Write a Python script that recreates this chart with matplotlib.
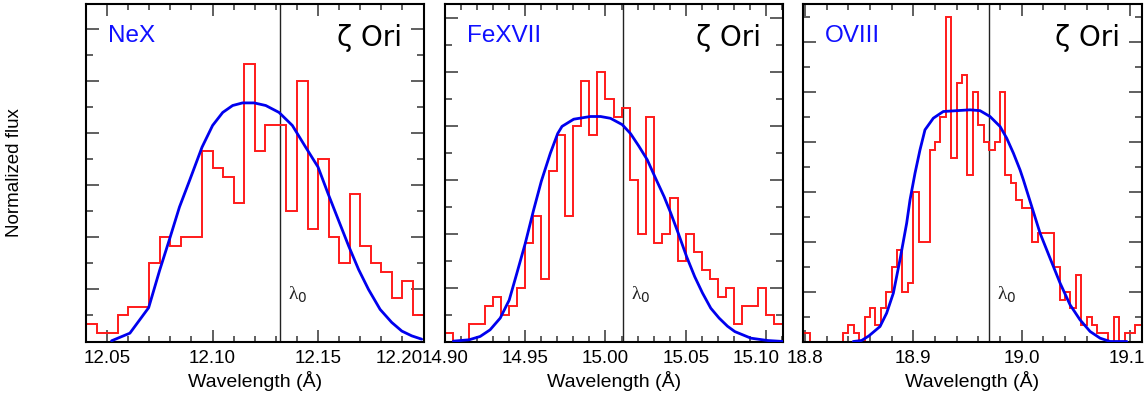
import numpy as np
import matplotlib
matplotlib.use("Agg")
import matplotlib.pyplot as plt
from matplotlib.ticker import FixedLocator, MultipleLocator, FuncFormatter

# ---------------- data ----------------
# Ne X panel
nex_bin_start = 12.040
nex_bin_width = 0.005
nex_counts = [2, 1, 1, 3, 4, 4, 9, 12, 11, 12, 12, 22, 20, 19, 16, 32,
              22, 25, 25, 15, 30, 13, 21, 12, 9, 17, 11, 9, 8, 5, 7, 3]
nex_model_wave = [12.0521, 12.0608, 12.0697, 12.0749, 12.0796, 12.0843, 12.0890,
                  12.0950, 12.1000, 12.1048, 12.1095, 12.1142, 12.1197, 12.1252,
                  12.1315, 12.1378, 12.1441, 12.1500, 12.1548, 12.1598, 12.1645,
                  12.1692, 12.1739, 12.1794, 12.1849, 12.1897, 12.1944, 12.1991]
nex_model_flux = [0.08, 0.96, 3.9, 8.2, 11.8, 15.5, 18.5, 22.4, 24.9, 26.4, 27.2,
                  27.5, 27.5, 27.2, 26.4, 24.9, 22.4, 20.1, 17.0, 13.9, 11.0, 8.3,
                  6.0, 3.7, 2.2, 1.2, 0.65, 0.27]
nex_lambda0 = 12.132

# Fe XVII panel
fe_bin_start = 14.900
fe_bin_width = 0.005
fe_counts = [1, 0, 0, 2, 2, 4, 5, 3, 4, 6, 11, 14, 7, 19, 23, 14, 24, 29, 23, 30,
             27, 25, 26, 18, 12, 25, 11, 12, 16, 9, 12, 10, 8, 7, 5, 6, 2, 4, 4, 6,
             3, 2]
fe_model_wave = [14.9052, 14.9150, 14.9219, 14.9281, 14.9344, 14.9400, 14.9448,
                 14.9500, 14.9552, 14.9600, 14.9656, 14.9702, 14.9729, 14.9802,
                 14.9906, 14.9969, 15.0031, 15.0104, 15.0156, 15.0208, 15.0260,
                 15.0313, 15.0365, 15.0406, 15.0454, 15.0506, 15.0556, 15.0604,
                 15.0656, 15.0708, 15.0760, 15.0806, 15.0906, 15.1010, 15.1110]
fe_model_flux = [0.04, 0.19, 0.56, 1.3, 2.6, 4.6, 7.6, 10.9, 14.6, 17.8, 20.9, 23.1,
                 23.9, 24.7, 25.0, 25.0, 24.8, 24.1, 23.1, 21.7, 20.2, 18.1, 16.1,
                 14.3, 12.0, 9.4, 7.2, 5.4, 3.7, 2.6, 1.7, 1.1, 0.37, 0.11, 0.0]
fe_lambda0 = 15.011

# O VIII panel
o_bin_start = 18.795
o_bin_width = 0.005
o_counts = [1, 1, 0, 0, 0, 0, 0, 0, 1, 2, 1, 0, 3, 4, 2, 4, 6, 9, 11, 6, 7,
            18, 12, 12, 23, 24, 27, 39, 22, 31, 32, 20, 30, 26, 24, 23, 24, 30,
            20, 19, 17, 16, 16, 12, 13, 13, 13, 9, 5, 6, 4, 8, 2, 3, 2, 1, 1, 0,
            3, 0, 1, 1, 2]
o_model_wave = [18.8446, 18.8523, 18.8591, 18.8693, 18.8754, 18.8816, 18.8877,
                18.8939, 18.8970, 18.9016, 18.9062, 18.9108, 18.9185, 18.9277,
                18.9400, 18.9524, 18.9616, 18.9708, 18.9801, 18.9862, 18.9924,
                18.9985, 19.0016, 19.0093, 19.0170, 19.0262, 19.0355, 19.0447,
                19.0539, 19.0632, 19.0724, 19.0816, 19.0970]
o_model_flux = [0.0, 0.12, 0.68, 1.8, 3.4, 5.8, 9.8, 14.2, 17.0, 20.2, 23.0, 25.4,
                26.8, 27.6, 27.7, 27.8, 27.7, 27.0, 25.8, 24.4, 22.6, 20.6, 19.4,
                16.2, 13.0, 10.0, 7.0, 4.4, 2.6, 1.2, 0.4, 0.0, 0.0]
o_lambda0 = 18.970

ion_labels = ["NeX", "FeXVII", "OVIII"]
star_label = "\u03b6 Ori"
x_major_ticks = [[12.05, 12.10, 12.15, 12.20],
                 [14.90, 14.95, 15.00, 15.05, 15.10],
                 [18.8, 18.9, 19.0, 19.1]]
x_tick_fmt = ["{:.2f}", "{:.2f}", "{:.1f}"]

# ---------------- layout ----------------
W, H = 1148, 400
fig = plt.figure(figsize=(W / 100, H / 100), dpi=100)
plt.rcParams['font.family'] = ['Liberation Sans', 'DejaVu Sans']

ax_px = [(86, 424), (445, 783), (803.3, 1141.7)]
top_px, bot_px = 4, 341.5
xlims = [(12.040, 12.2002), (14.900, 15.1106), (18.7985, 19.1108)]
ylims = [(0, 38.9), (0, 37.5), (0, 40.5)]
x_minor = [0.01, 0.01, 0.02]
last_label_shift_px = [-24, -10, -3]
tick_pad_pt = 6
tick_fs = 13.5

panels = [
    (nex_bin_start, nex_bin_width, nex_counts, nex_model_wave, nex_model_flux, nex_lambda0),
    (fe_bin_start, fe_bin_width, fe_counts, fe_model_wave, fe_model_flux, fe_lambda0),
    (o_bin_start, o_bin_width, o_counts, o_model_wave, o_model_flux, o_lambda0),
]

for i, (bstart, bw, counts, mw, mf, lam0) in enumerate(panels):
    l, r = ax_px[i]
    ax = fig.add_axes([l / W, (H - bot_px) / H, (r - l) / W, (bot_px - top_px) / H])
    edges = bstart + bw * np.arange(len(counts) + 1)
    ax.stairs(counts, edges, color='#ff1a1a', lw=1.4, baseline=None, zorder=2)
    ax.plot(mw, mf, color='#0000ee', lw=2.0, zorder=3, solid_capstyle='round')
    ax.axvline(lam0, color='#222222', lw=1.0, zorder=1)
    ax.set_xlim(*xlims[i])
    ax.set_ylim(*ylims[i])

    ticks = x_major_ticks[i]
    fmt = x_tick_fmt[i]
    last = ticks[-1]
    ax.xaxis.set_major_locator(FixedLocator(ticks))
    ax.xaxis.set_major_formatter(
        FuncFormatter(lambda v, p, fmt=fmt, last=last:
                      '' if abs(v - last) < 1e-9 else fmt.format(v)))
    ax.xaxis.set_minor_locator(MultipleLocator(x_minor[i]))
    ax.yaxis.set_major_locator(MultipleLocator(6))
    ax.yaxis.set_minor_locator(MultipleLocator(3))
    ax.set_yticklabels([])
    ax.tick_params(which='both', direction='in', top=True, right=True,
                   color='#444444', width=1.2)
    ax.tick_params(axis='x', which='major', length=8.6, pad=tick_pad_pt,
                   labelsize=tick_fs)
    ax.tick_params(axis='x', which='minor', length=4.5)
    ax.tick_params(axis='y', which='major', length=9.4)
    ax.tick_params(axis='y', which='minor', length=5)
    for s in ax.spines.values():
        s.set_linewidth(1.5)
        s.set_color('black')
    # last tick label, nudged left as in the reference
    ax.annotate(fmt.format(last), xy=(last, 0), xycoords=('data', 'axes fraction'),
                xytext=(last_label_shift_px[i], -tick_pad_pt * 100 / 72),
                textcoords='offset pixels', ha='center', va='top',
                fontsize=tick_fs, annotation_clip=False)
    ax.set_xlabel("Wavelength (\u00c5)", fontsize=14, labelpad=3)

    ax.text(0.065, 0.887, ion_labels[i], transform=ax.transAxes, color='#1010ff',
            fontsize=17.5, ha='left', va='baseline')
    ax.text(0.935, 0.876, star_label, transform=ax.transAxes, color='black',
            fontsize=20, ha='right', va='baseline', family='DejaVu Sans')
    ax.annotate("\u03bb$_0$", xy=(lam0, 0), xycoords=('data', 'axes fraction'),
                xytext=(8, 0.123 * (bot_px - top_px)), textcoords='offset pixels',
                fontsize=14, ha='left', va='baseline', color='#222222',
                family=['Liberation Serif', 'DejaVu Serif'])

fig.text(15 / W, 1 - ((top_px + bot_px) / 2) / H, "Normalized flux", rotation=90,
         ha='center', va='center', fontsize=13.5)

fig.savefig("out.png", dpi=100)
